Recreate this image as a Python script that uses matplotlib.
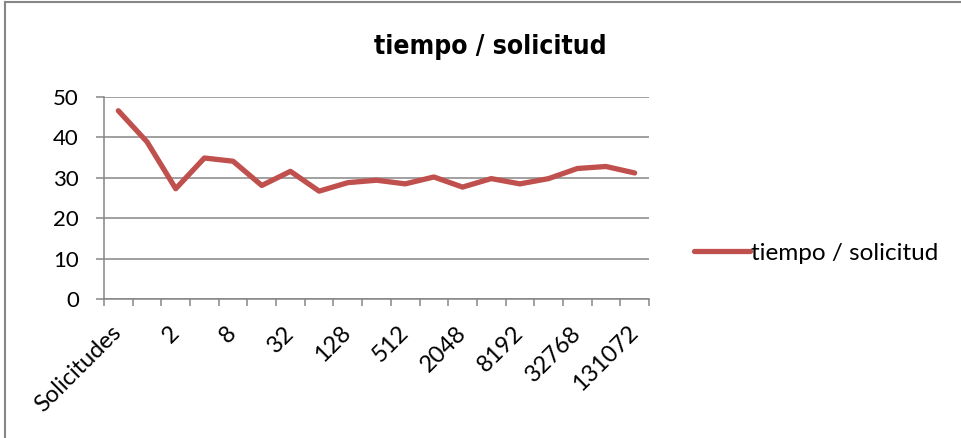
import matplotlib.pyplot as plt
from matplotlib.lines import Line2D

# requests per batch (x axis) and average time per request
categorias = ["Solicitudes", "1", "2", "4", "8", "16", "32", "64", "128", "256",
              "512", "1024", "2048", "4096", "8192", "16384", "32768", "65536", "131072"]
tiempo = [46.6, 38.9, 27.3, 34.9, 34.1, 28.1, 31.6, 26.7, 28.8, 29.4,
          28.5, 30.2, 27.7, 29.8, 28.5, 29.8, 32.3, 32.8, 31.2]
serie = "tiempo / solicitud"

GRIS = "#868686"
ROJO = "#C0504D"

plt.rcParams['font.family'] = ['Lato', 'DejaVu Sans']

fig = plt.figure(figsize=(9.61, 4.38), dpi=100)
ax = fig.add_axes([104 / 961, 1 - 299 / 438, 545 / 961, 202 / 438])

x = list(range(len(categorias)))
ax.plot(x, tiempo, color=ROJO, lw=3.8, solid_capstyle='round', solid_joinstyle='round',
        label=serie, zorder=3)

ax.set_xlim(-0.5, len(categorias) - 0.5)
ax.set_ylim(0, 50)
ax.set_yticks(range(0, 51, 10))
ax.yaxis.grid(True, color=GRIS, lw=1.1)
ax.set_axisbelow(True)

# labels on every other category, tick marks between categories
ax.set_xticks(x[::2])
ax.set_xticklabels(categorias[::2], rotation=45, ha='right', va='center',
                   rotation_mode='anchor')
ax.set_xticks([i - 0.5 for i in range(len(categorias) + 1)], minor=True)
ax.tick_params(axis='x', which='major', length=0, pad=22, labelsize=17)
ax.tick_params(axis='x', which='minor', length=5, width=1.1, color=GRIS)
ax.tick_params(axis='y', length=6, width=1.1, color=GRIS, pad=12, labelsize=16)

for s in ['top', 'right']:
    ax.spines[s].set_visible(False)
for s in ['left', 'bottom']:
    ax.spines[s].set_color(GRIS)
    ax.spines[s].set_linewidth(1.1)

fig.text(490 / 961, 1 - 47 / 438, serie, ha='center', va='center', fontsize=19,
         fontweight='bold', fontstretch='condensed',
         family=['Liberation Sans Narrow', 'DejaVu Sans'])

leg = fig.legend(loc='center left', bbox_to_anchor=(684 / 961, 1 - 253 / 438),
                 frameon=False, fontsize=17.5, handlelength=2.3, handletextpad=0.05,
                 borderaxespad=0)

# chart area border
fig.add_artist(Line2D([5 / 961, 5 / 961], [0, 1 - 2 / 438], color=GRIS, lw=1.5))
fig.add_artist(Line2D([5 / 961, 1], [1 - 2 / 438, 1 - 2 / 438], color=GRIS, lw=1.5))

fig.savefig("out.png", dpi=100)
